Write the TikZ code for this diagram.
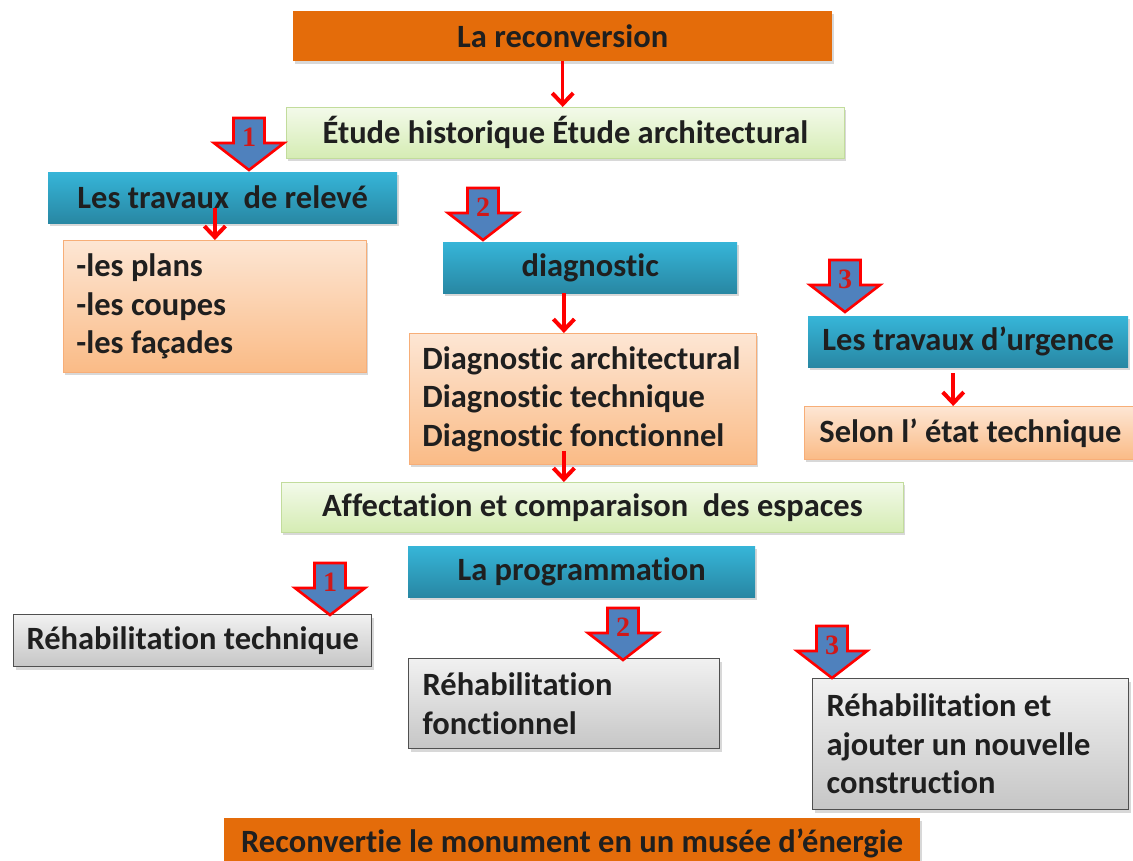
\documentclass[tikz,border=0pt]{standalone}
\usepackage{fontspec}
\setmainfont{Carlito}[Ligatures=NoCommon]
\newfontfamily\numfont{Liberation Serif}
\usetikzlibrary{arrows.meta,shadows,calc}
\definecolor{orangeM}{HTML}{E46C0A}
\definecolor{blueT}{HTML}{36B5D8}
\definecolor{blueB}{HTML}{2887A3}
\definecolor{greenT}{HTML}{F3FAEA}
\definecolor{greenB}{HTML}{D5ECB3}
\definecolor{greenD}{HTML}{C2DC9C}
\definecolor{peachT}{HTML}{FDE6D4}
\definecolor{peachB}{HTML}{FABB86}
\definecolor{peachD}{HTML}{F7AE78}
\definecolor{grayT}{HTML}{F1F1F1}
\definecolor{grayB}{HTML}{C6C6C6}
\definecolor{grayD}{HTML}{505050}
\definecolor{arrowblue}{HTML}{4F81BD}
\definecolor{numred}{HTML}{D01818}
\tikzset{
 box/.style={anchor=north west, inner sep=0pt, font=\fontsize{32.5}{38.5}\selectfont\bfseries, text=black!88,
   drop shadow={shadow xshift=2pt,shadow yshift=-3pt,opacity=0.3}},
 orangebox/.style={box, fill=orangeM},
 bluebox/.style={box, top color=blueT, bottom color=blueB},
 greenbox/.style={box, top color=greenT, bottom color=greenB, draw=greenD, line width=0.8pt},
 peachbox/.style={box, top color=peachT, bottom color=peachB, draw=peachD, line width=0.8pt},
 graybox/.style={box, top color=grayT, bottom color=grayB, draw=grayD, line width=1.2pt},
 multi/.style={align=flush left, inner xsep=13pt},
 redarr/.style={draw=red, line width=3.5pt, -{Straight Barb[length=11pt,width=21pt,line width=4pt]}},
 numshape/.style={fill=arrowblue, draw=red, line width=2.6pt, line join=miter},
 numlbl/.style={font=\numfont\fontsize{28}{28}\selectfont\bfseries, text=numred, inner sep=0pt}
}
\newcommand\numarrow[4]{%
 \path[numshape] (#2-15.5,#3-52) -- (#2+15.5,#3-52) -- (#2+15.5,#3-27) -- (#2+35,#3-27)
   -- (#2,#3) -- (#2-35,#3-27) -- (#2-15.5,#3-27) -- cycle;
 \node[numlbl] (#1) at (#2,#3-33) {#4};
}
\begin{document}
\begin{tikzpicture}[x=1pt,y=-1pt]
\clip (0,0) rectangle (1133,860);
\fill[white] (0,0) rectangle (1133,860);

\node[orangebox, minimum width=539, minimum height=50] (reco) at (293,11) {La reconversion};
\node[greenbox, minimum width=558, minimum height=51] (etude) at (286,107) {Étude historique Étude architectural};
\node[bluebox, minimum width=349, minimum height=51] (releve) at (48,172) {Les travaux~ de relevé};
\node[peachbox, multi, text width=277, minimum height=132] (plans) at (63,240) {-les~plans\\-les~coupes\\-les~façades};
\node[bluebox, minimum width=294, minimum height=51] (diag) at (443,242) {diagnostic};
\node[peachbox, multi, text width=321, minimum height=131] (diagbox) at (409,333) {Diagnostic~architectural\\Diagnostic~technique\\Diagnostic~fonctionnel};
\node[bluebox, minimum width=320, minimum height=51] (urgence) at (808,316) {Les travaux d’urgence};
\node[peachbox, minimum width=332, minimum height=53] (selon) at (804,406) {Selon l’ état technique};
\node[greenbox, minimum width=622, minimum height=50] (affect) at (281,482) {Affectation et comparaison~ des espaces};
\node[bluebox, minimum width=347, minimum height=51] (prog) at (408,546) {La programmation};
\node[graybox, minimum width=358, minimum height=52] (rtech) at (13,614) {Réhabilitation technique};
\node[graybox, multi, inner xsep=14pt, text width=283, minimum height=90] (rfonc) at (408,658) {Réhabilitation\\fonctionnel};
\node[graybox, multi, inner xsep=14pt, text width=288, minimum height=131] (rnouv) at (812,678) {Réhabilitation~et\\ajouter~un~nouvelle\\construction};
\node[orangebox, minimum width=696, minimum height=50] (final) at (224,818) {Reconvertie le monument en un musée d’énergie};

% red connectors
\draw[redarr] (reco.south) -- (reco.south |- etude.north);
\draw[redarr] ([yshift=15pt]plans.north |- releve.south) -- (plans.north);
\draw[redarr] ([xshift=-19pt]diagbox.north |- diag.south) -- ([xshift=-19pt]diagbox.north);
\draw[redarr] ([xshift=-19pt,yshift=14pt]diagbox.south) -- ([xshift=-19pt]diagbox.south |- affect.north);
\draw[redarr] ([xshift=-15pt,yshift=-6pt]urgence.south) -- ([xshift=-15pt]urgence.south |- selon.north);

% numbered block arrows
\numarrow{na1}{249}{170}{1}
\numarrow{na2}{483}{240}{2}
\numarrow{na3}{845}{312}{3}
\numarrow{nb1}{330}{615}{1}
\numarrow{nb2}{623}{660}{2}
\numarrow{nb3}{832}{678}{3}
\end{tikzpicture}
\end{document}
